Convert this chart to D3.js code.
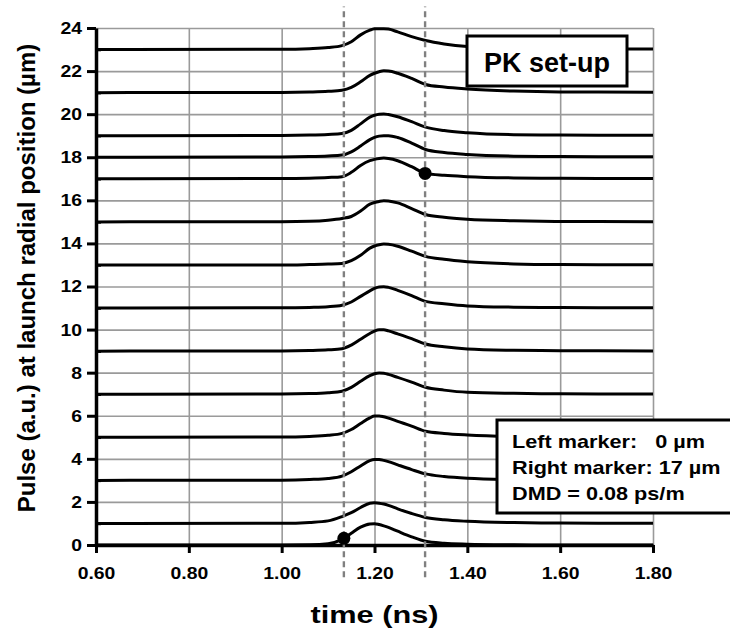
<!DOCTYPE html>
<html>
<head>
<meta charset="utf-8">
<script src="https://cdn.jsdelivr.net/npm/d3@7"></script>
<style>
  body { margin: 0; background: #fff; }
  text { font-family: Arial, "Liberation Sans", sans-serif; font-weight: bold; fill: #000; }
</style>
</head>
<body>
<div class="canva"></div>
<script>
// time grid (ns) the pulses are read at
const times = [0.60, 1.00, 1.06, 1.10, 1.13, 1.15, 1.17, 1.19, 1.20, 1.21, 1.22, 1.23, 1.25, 1.28, 1.31, 1.35, 1.40, 1.50, 1.60, 1.80];

// launch radial positions (um) = baseline of each pulse
const launchPositions = [0, 1, 3, 5, 7, 9, 11, 13, 15, 17, 18, 19, 21, 23];

// pulse amplitude (a.u.) above its baseline, one row per launch position
const pulses = [
  [0, 0, 0.01, 0.06, 0.26, 0.55, 0.83, 0.98, 0.99, 0.95, 0.89, 0.82, 0.64, 0.38, 0.17, 0.08, 0.04, 0.01, 0, 0],
  [0, 0.01, 0.05, 0.12, 0.32, 0.50, 0.74, 0.94, 0.96, 0.94, 0.90, 0.84, 0.68, 0.46, 0.28, 0.17, 0.10, 0.04, 0.02, 0.01],
  [0, 0.01, 0.04, 0.09, 0.20, 0.40, 0.67, 0.92, 0.97, 0.97, 0.93, 0.87, 0.72, 0.50, 0.30, 0.18, 0.10, 0.04, 0.02, 0.01],
  [0, 0.01, 0.04, 0.09, 0.18, 0.36, 0.64, 0.90, 0.99, 0.99, 0.95, 0.89, 0.74, 0.52, 0.28, 0.18, 0.11, 0.04, 0.02, 0.01],
  [0, 0.01, 0.03, 0.07, 0.14, 0.32, 0.60, 0.86, 0.95, 0.99, 0.97, 0.92, 0.78, 0.56, 0.32, 0.19, 0.09, 0.04, 0.02, 0.01],
  [0, 0.01, 0.03, 0.06, 0.11, 0.28, 0.55, 0.82, 0.93, 0.99, 0.99, 0.94, 0.80, 0.58, 0.33, 0.20, 0.10, 0.04, 0.02, 0.01],
  [0, 0.01, 0.03, 0.06, 0.13, 0.28, 0.54, 0.80, 0.91, 0.98, 0.99, 0.96, 0.82, 0.58, 0.31, 0.20, 0.10, 0.04, 0.02, 0.01],
  [0, 0, 0.02, 0.04, 0.07, 0.20, 0.45, 0.78, 0.88, 0.94, 0.97, 0.96, 0.87, 0.64, 0.40, 0.26, 0.15, 0.05, 0.02, 0.01],
  [0, 0.01, 0.03, 0.08, 0.16, 0.25, 0.50, 0.82, 0.90, 0.95, 0.98, 0.97, 0.88, 0.62, 0.34, 0.21, 0.12, 0.05, 0.02, 0.01],
  [0, 0.01, 0.03, 0.06, 0.10, 0.30, 0.62, 0.84, 0.90, 0.94, 0.96, 0.94, 0.84, 0.56, 0.25, 0.16, 0.10, 0.04, 0.02, 0.01],
  [0, 0.01, 0.03, 0.06, 0.10, 0.25, 0.52, 0.82, 0.92, 0.98, 1.00, 1.00, 0.92, 0.66, 0.36, 0.22, 0.13, 0.05, 0.03, 0.02],
  [0, 0.01, 0.03, 0.06, 0.10, 0.25, 0.55, 0.86, 0.95, 1.00, 1.01, 0.98, 0.88, 0.65, 0.40, 0.24, 0.14, 0.05, 0.03, 0.02],
  [0, 0.01, 0.03, 0.06, 0.11, 0.24, 0.50, 0.80, 0.90, 0.97, 1.01, 1.00, 0.90, 0.66, 0.38, 0.26, 0.17, 0.07, 0.03, 0.02],
  [0, 0.01, 0.04, 0.09, 0.18, 0.36, 0.68, 0.90, 0.96, 0.97, 0.97, 0.95, 0.82, 0.60, 0.42, 0.26, 0.14, 0.06, 0.03, 0.02]
];

const xTicks = [0.60, 0.80, 1.00, 1.20, 1.40, 1.60, 1.80];
const yTicks = [0, 2, 4, 6, 8, 10, 12, 14, 16, 18, 20, 22, 24];
const yMinorTicks = [1, 3, 5, 7, 9, 11, 13, 15, 17, 19, 21, 23];

// markers: [time, value]
const markers = [[1.134, 0.31], [1.309, 17.25]];
const markerLineRange = [-1.5, 25.0];

const setupLabel = "PK set-up";
const legendLines = ["Left marker:   0 \u00b5m", "Right marker: 17 \u00b5m", "DMD = 0.08 ps/m"];

const svg = d3.select(".canva").append("svg")
  .attr("width", 730)
  .attr("height", 635);

const x = d3.scaleLinear().domain([0.6, 1.8]).range([96, 653]);
const y = d3.scaleLinear().domain([0, 24]).range([545, 28]);

const plotW = x(1.8) - x(0.6);
const plotH = y(0) - y(24);

// stretch text a bit wider, the original is a bit wide
function stretch(sel, k) {
  sel.each(function() {
    const w = this.getComputedTextLength();
    d3.select(this).attr("textLength", w * k).attr("lengthAdjust", "spacingAndGlyphs");
  });
}

// gridlines, drawn as axes with long ticks
svg.append("g")
  .attr("class", "grid")
  .attr("transform", `translate(0,${y(0)})`)
  .call(d3.axisBottom(x).tickValues(xTicks.slice(1)).tickFormat("").tickSize(-plotH).tickSizeOuter(0));

svg.append("g")
  .attr("class", "grid")
  .attr("transform", `translate(${x(0.6)},0)`)
  .call(d3.axisLeft(y).tickValues(yTicks.slice(1)).tickFormat("").tickSize(-plotW).tickSizeOuter(0));

svg.selectAll(".grid .domain").remove();
svg.selectAll(".grid line")
  .attr("stroke", "#9a9a9a")
  .attr("stroke-width", 1.6);

// pulses
const line = d3.line()
  .x(d => x(d[0]))
  .y(d => y(d[1]))
  .curve(d3.curveMonotoneX);

svg.append("g").selectAll("path")
  .data(pulses)
  .enter().append("path")
  .attr("d", (p, i) => line(times.map((t, j) => [t, launchPositions[i] + p[j]])))
  .attr("fill", "none")
  .attr("stroke", "#000")
  .attr("stroke-width", 3)
  .attr("stroke-linejoin", "round");

// axes
const xAxis = svg.append("g")
  .attr("transform", `translate(0,${y(0)})`)
  .call(d3.axisBottom(x).tickValues(xTicks).tickFormat(d3.format(".2f"))
    .tickSize(8).tickSizeOuter(0).tickPadding(14));

const yAxis = svg.append("g")
  .attr("transform", `translate(${x(0.6)},0)`)
  .call(d3.axisLeft(y).tickValues(yTicks).tickFormat(d3.format("d"))
    .tickSize(9).tickSizeOuter(0).tickPadding(5));

svg.append("g")
  .attr("transform", `translate(${x(0.6)},0)`)
  .call(d3.axisLeft(y).tickValues(yMinorTicks).tickFormat("").tickSize(-5).tickSizeOuter(0))
  .call(g => g.select(".domain").remove())
  .selectAll("line").attr("stroke", "#000").attr("stroke-width", 2.5);

[xAxis, yAxis].forEach(g => {
  g.select(".domain").attr("stroke", "#000").attr("stroke-width", 3.5);
  g.selectAll(".tick line").attr("stroke", "#000").attr("stroke-width", 3);
  g.selectAll("text").attr("font-size", 17).attr("font-family", null);
  stretch(g.selectAll("text"), 1.14);
});

// marker lines
svg.append("g").selectAll("line")
  .data(markers)
  .enter().append("line")
  .attr("x1", d => x(d[0])).attr("x2", d => x(d[0]))
  .attr("y1", y(markerLineRange[0])).attr("y2", y(markerLineRange[1]))
  .attr("stroke", "#808080")
  .attr("stroke-width", 2.4)
  .attr("stroke-dasharray", "6,4");

svg.append("g").selectAll("circle")
  .data(markers)
  .enter().append("circle")
  .attr("cx", d => x(d[0]))
  .attr("cy", d => y(d[1]))
  .attr("r", 6.5)
  .attr("fill", "#000");

// PK set-up box
svg.append("rect")
  .attr("x", 467).attr("y", 36).attr("width", 160).attr("height", 50)
  .attr("fill", "#fff").attr("stroke", "#000").attr("stroke-width", 3);

svg.append("text")
  .attr("x", 547).attr("y", 72)
  .attr("text-anchor", "middle")
  .attr("font-size", 27)
  .text(setupLabel);

// legend box
svg.append("rect")
  .attr("x", 497).attr("y", 420).attr("width", 245).attr("height", 93)
  .attr("fill", "#fff").attr("stroke", "#000").attr("stroke-width", 3);

const legendText = svg.append("g").selectAll("text")
  .data(legendLines)
  .enter().append("text")
  .attr("x", 512)
  .attr("y", (d, i) => 448 + i * 26)
  .attr("font-size", 18.5)
  .style("white-space", "pre")
  .text(d => d);
stretch(legendText, 1.17);

// axis titles
const xTitle = svg.append("text")
  .attr("x", (x(0.6) + x(1.8)) / 2)
  .attr("y", 623)
  .attr("text-anchor", "middle")
  .attr("font-size", 24)
  .text("time (ns)");
stretch(xTitle, 1.28);

svg.append("text")
  .attr("transform", `translate(35,278) rotate(-90)`)
  .attr("text-anchor", "middle")
  .attr("font-size", 24)
  .text("Pulse (a.u.) at launch radial position (\u00b5m)");
</script>
</body>
</html>
